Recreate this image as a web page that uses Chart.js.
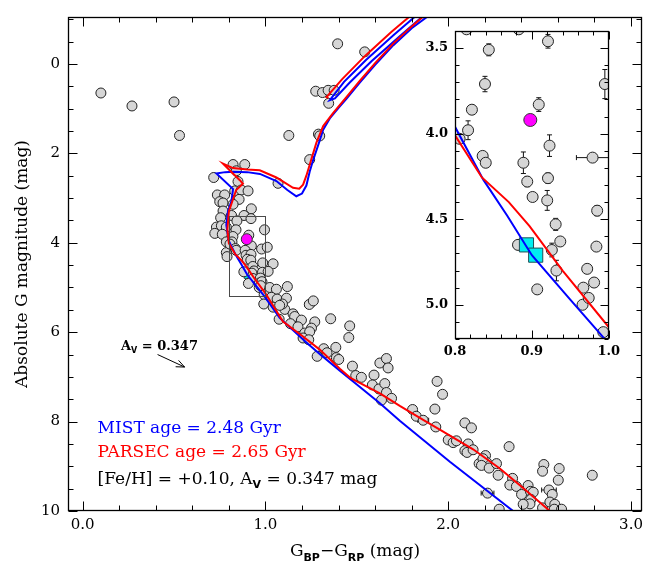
<!DOCTYPE html>
<html>
<head>
<meta charset="utf-8">
<script src="https://cdn.jsdelivr.net/npm/chart.js@4.4.1/dist/chart.umd.min.js"></script>
<style>
  html, body { margin: 0; padding: 0; background: #fff; }
  #wrap { position: relative; width: 657px; height: 564px; }
  #cmd { position: absolute; left: 0; top: 0; }
  #zoom { position: absolute; left: 415px; top: 15px; }
</style>
</head>
<body>
<div id="wrap">
  <canvas id="cmd" width="657" height="564"></canvas>
  <canvas id="zoom" width="210" height="350"></canvas>
</div>
<script>
// Cluster members: Gaia BP-RP colour vs absolute G magnitude
const starColor = [
  0.10, 0.27, 0.50, 0.53,
  1.395, 1.543, 1.275, 1.312, 1.343, 1.376, 1.346, 1.128, 1.290, 1.297, 1.242, 1.069,
  0.717, 0.823, 0.887, 0.841, 0.850, 0.832, 0.868, 0.905, 0.737, 0.777, 0.750, 0.768, 0.856, 0.823,
  0.923, 0.768, 0.755, 0.815, 0.883, 0.732, 0.759, 0.786, 0.723, 0.764, 0.786, 0.786, 0.790,
  0.921, 0.844, 0.839, 0.995, 0.822, 0.909, 0.817, 0.806, 0.923, 0.836, 0.840, 0.889, 0.979,
  0.894, 0.921, 0.901, 0.920, 0.985, 0.931, 0.937, 0.926, 0.984, 0.882, 0.932, 0.972, 0.907,
  0.967, 0.981, 0.966, 0.974, 0.993,
  1.010, 1.042, 1.015, 1.025, 1.024, 1.060, 1.120, 1.033, 1.064, 1.115, 0.991, 1.042, 1.106,
  1.151, 1.240, 1.262, 1.093, 1.078, 1.075, 1.160, 1.197, 1.137, 1.178, 1.357, 1.270, 1.252,
  1.215, 1.242, 1.206, 1.237, 1.461, 1.456, 1.283, 1.319, 1.337, 1.385, 1.388, 1.401, 1.476,
  1.494, 1.525, 1.594, 1.626, 1.662, 1.671, 1.585, 1.621, 1.653, 1.662, 1.690, 1.635, 1.939,
  1.969, 1.805, 1.825, 1.863, 1.927, 1.932, 2.000, 2.027, 2.045, 2.091, 2.127, 2.109, 2.091,
  2.103, 2.136, 2.169, 2.204, 2.210, 2.190, 2.182, 2.224, 2.264, 2.273, 2.333, 2.352, 2.337,
  2.373, 2.401, 2.437, 2.450, 2.465, 2.452, 2.447, 2.516, 2.523, 2.516, 2.607, 2.602, 2.551,
  2.569, 2.556, 2.583, 2.580, 2.620, 2.788, 2.215, 2.279, 2.410
];
const starMag = [
  0.65, 0.94, 0.85, 1.60,
  -0.45, -0.27, 0.61, 0.64, 0.59, 0.59, 0.88, 1.60, 1.57, 1.61, 2.14, 2.67,
  2.54, 2.25, 2.25, 2.39, 2.63, 2.84, 2.82, 2.84, 2.93, 2.93, 3.08, 3.11, 3.03, 3.14,
  3.24, 3.29, 3.44, 3.39, 3.39, 3.65, 3.62, 3.65, 3.79, 3.81, 3.98, 4.22, 4.31,
  3.46, 3.51, 3.71, 3.71, 3.86, 3.83, 3.98, 4.03, 4.07, 4.13, 4.17, 4.17, 4.14,
  4.28, 4.26, 4.37, 4.39, 4.45, 4.53, 4.63, 4.68, 4.66, 4.65, 4.80, 4.79, 4.91,
  4.90, 4.87, 5.00, 4.96, 5.16,
  4.10, 4.47, 4.64, 5.10, 5.00, 5.04, 4.98, 5.22, 5.26, 5.24, 5.37, 5.44, 5.49,
  5.59, 5.38, 5.30, 5.37, 5.40, 5.71, 5.65, 5.73, 5.81, 5.88, 5.70, 5.77, 5.91,
  6.02, 5.99, 6.13, 6.17, 5.86, 6.12, 6.54, 6.37, 6.46, 6.34, 6.57, 6.61, 6.76,
  6.97, 7.01, 6.96, 6.69, 6.59, 6.80, 7.18, 7.27, 7.15, 7.35, 7.48, 7.52, 7.10,
  7.39, 7.73, 7.88, 7.97, 7.72, 8.12, 8.41, 8.47, 8.43, 8.03, 8.14, 8.50, 8.65,
  8.69, 8.63, 8.94, 8.76, 8.91, 8.83, 8.98, 9.04, 8.94, 9.20, 8.56, 9.27, 9.42,
  9.45, 9.63, 9.43, 9.56, 9.58, 9.74, 9.84, 9.93, 8.96, 9.11, 9.05, 9.31, 9.53,
  9.63, 9.80, 9.85, 9.96, 9.96, 9.20, 9.60, 9.96, 9.85
];
// photometric uncertainties (0 = bar hidden by the marker)
const starColorErr = starColor.map(() => 0);
const starMagErr = starColor.map(() => 0);
[[43, 0, 0.040], [44, 0, 0.035], [45, 0, 0.045], [46, 0, 0.085], [47, 0, 0.025], [48, 0, 0.040],
 [49, 0, 0.055], [51, 0, 0.063], [54, 0, 0.063], [55, 0.021, 0], [56, 0, 0.030], [57, 0, 0.030],
 [59, 0, 0.058], [60, 0, 0.030], [61, 0, 0.035], [63, 0, 0.040], [66, 0, 0.060],
 [88, 0.025, 0], [129, 0.030, 0], [152, 0.040, 0], [160, 0, 0.080], [164, 0.040, 0], [171, 0.035, 0]
].forEach(([i, ex, ey]) => { starColorErr[i] = ex; starMagErr[i] = ey; });

// the binary primary and its two companion solutions
const primaryColor = [0.898];
const primaryMag = [3.92];
const companionColor = [0.893, 0.905];
const companionMag = [4.65, 4.71];

// MIST isochrone: main sequence, subgiant and red giant branch, then the clump loop
const mistColor = [2.37, 2.355, 2.009, 1.735, 1.626, 1.50, 1.407, 1.30, 1.224, 1.15, 1.078, 0.993, 0.95,
  0.90, 0.868, 0.837, 0.80, 0.786, 0.795, 0.814, 0.823, 0.732, 0.78, 0.823, 0.90, 0.97, 1.06, 1.12,
  1.169, 1.20, 1.224, 1.242, 1.261, 1.29, 1.316, 1.352, 1.40, 1.443, 1.516, 1.60, 1.70, 1.80, 1.90];
const mistMag = [10.05, 10.0, 8.90, 7.98, 7.59, 7.17, 6.86, 6.50, 6.23, 5.95, 5.68, 5.19, 4.97,
  4.71, 4.48, 4.27, 3.96, 3.60, 3.30, 3.07, 2.80, 2.45, 2.42, 2.41, 2.42, 2.46, 2.62, 2.82,
  2.96, 2.90, 2.72, 2.41, 2.15, 1.80, 1.47, 1.22, 0.98, 0.78, 0.42, 0.02, -0.42, -0.80, -1.10];
const mistLoopColor = [1.83, 1.70, 1.55, 1.43, 1.352, 1.38, 1.46, 1.58, 1.73, 1.87];
const mistLoopMag = [-1.10, -0.64, -0.09, 0.40, 0.81, 0.77, 0.42, -0.06, -0.60, -1.10];

// PARSEC isochrone
const parsecColor = [2.57, 2.556, 2.40, 2.282, 2.136, 1.954, 1.863, 1.735, 1.626, 1.50, 1.461, 1.407,
  1.297, 1.20, 1.096, 1.0, 0.94, 0.897, 0.87, 0.835, 0.80, 0.792, 0.80, 0.823, 0.84, 0.877, 0.86,
  0.80, 0.768, 0.823, 0.90, 0.969, 1.06, 1.151, 1.185, 1.206, 1.224, 1.252, 1.279, 1.316, 1.37,
  1.443, 1.516, 1.60, 1.70, 1.80, 1.88];
const parsecMag = [10.05, 10.0, 9.45, 9.05, 8.62, 8.18, 7.96, 7.65, 7.37, 7.10, 7.01, 6.82,
  6.39, 6.08, 5.76, 5.13, 4.80, 4.54, 4.40, 4.256, 4.01, 3.70, 3.30, 3.02, 2.82, 2.68, 2.60,
  2.36, 2.23, 2.33, 2.36, 2.38, 2.54, 2.77, 2.79, 2.70, 2.50, 2.12, 1.76, 1.39, 1.10,
  0.74, 0.38, -0.02, -0.46, -0.84, -1.12];
const parsecLoopColor = [1.80, 1.69, 1.545, 1.42, 1.334, 1.345];
const parsecLoopMag = [-1.10, -0.72, -0.18, 0.34, 0.74, 0.76];

// fit parameters
const mistAge = 2.48;
const parsecAge = 2.65;
const feH = 0.10;
const extinctionAV = 0.347;
const reddeningStart = [0.41, 6.50];
const reddeningShift = [0.148, 0.28];  // E(BP-RP), A_G for the A_V above

// axes
const xTicks = [0, 1, 2, 3];
const yTicks = [0, 2, 4, 6, 8, 10];
const zoomColorRange = [0.8, 1.0];
const zoomMagRange = [3.4, 5.2];
const zoomXTicks = [0.8, 0.9, 1.0];
const zoomYTicks = [3.5, 4.0, 4.5, 5.0];

const SERIF = '"DejaVu Serif", serif';
Chart.defaults.font.family = SERIF;
Chart.defaults.color = '#000';

const pts = (xs, ys) => xs.map((x, i) => ({ x, y: ys[i] }));

function isochrone(xs, ys, color, order) {
  return { data: pts(xs, ys), showLine: true, borderColor: color, borderWidth: 2,
           pointRadius: 0, tension: 0, order };
}

function buildDatasets(s) {
  return [
    { data: pts(primaryColor, primaryMag), pointRadius: s.primary, backgroundColor: '#ff00ff',
      borderColor: '#333', borderWidth: 1, order: 0 },
    isochrone(parsecColor, parsecMag, '#ff0000', 1),
    isochrone(parsecLoopColor, parsecLoopMag, '#ff0000', 1),
    isochrone(mistColor, mistMag, '#0000ff', 2),
    isochrone(mistLoopColor, mistLoopMag, '#0000ff', 2),
    { data: pts(starColor, starMag), pointRadius: s.star, backgroundColor: '#d6d6d6',
      borderColor: '#222', borderWidth: 1, order: s.starOrder },
    { data: pts(companionColor, companionMag), pointStyle: 'rect', pointRadius: s.companion,
      backgroundColor: '#00eef0', borderColor: '#1f4f55', borderWidth: 1, order: s.companionOrder }
  ];
}

// error bars sit under the markers
const errorBars = {
  id: 'errorBars',
  beforeDatasetsDraw(chart) {
    const { ctx, chartArea: a, scales: { x, y } } = chart;
    ctx.save();
    ctx.beginPath();
    ctx.rect(a.left, a.top, a.width, a.height);
    ctx.clip();
    ctx.strokeStyle = '#111';
    ctx.lineWidth = 1;
    ctx.beginPath();
    starColor.forEach((c, i) => {
      const m = starMag[i], ex = starColorErr[i], ey = starMagErr[i];
      const px = x.getPixelForValue(c), py = y.getPixelForValue(m);
      if (ey) {
        const y0 = y.getPixelForValue(m - ey), y1 = y.getPixelForValue(m + ey);
        ctx.moveTo(px, y0); ctx.lineTo(px, y1);
        ctx.moveTo(px - 2.5, y0); ctx.lineTo(px + 2.5, y0);
        ctx.moveTo(px - 2.5, y1); ctx.lineTo(px + 2.5, y1);
      }
      if (ex) {
        const x0 = x.getPixelForValue(c - ex), x1 = x.getPixelForValue(c + ex);
        ctx.moveTo(x0, py); ctx.lineTo(x1, py);
        ctx.moveTo(x0, py - 2.5); ctx.lineTo(x0, py + 2.5);
        ctx.moveTo(x1, py - 2.5); ctx.lineTo(x1, py + 2.5);
      }
    });
    ctx.stroke();
    ctx.restore();
  }
};

// box frame with inward major/minor ticks on all four sides
const frameTicks = {
  id: 'frameTicks',
  beforeDraw(chart, args, o) {
    if (!o.fill) return;
    const { ctx, chartArea: a } = chart;
    ctx.save();
    ctx.fillStyle = o.fill;
    ctx.fillRect(a.left, a.top, a.width, a.height);
    ctx.restore();
  },
  afterDraw(chart, args, o) {
    const { ctx, chartArea: a, scales: { x, y } } = chart;
    const L = Math.round(a.left) + 0.5, R = Math.round(a.right) - 0.5;
    const T = Math.round(a.top) + 0.5, B = Math.round(a.bottom) - 0.5;
    const each = (scale, minor, major, fn) => {
      const k0 = Math.ceil(scale.min / minor - 1e-6), k1 = Math.floor(scale.max / minor + 1e-6);
      for (let k = k0; k <= k1; k++) {
        const v = k * minor;
        const isMajor = Math.abs(v / major - Math.round(v / major)) < 1e-6;
        fn(Math.round(scale.getPixelForValue(v)) + 0.5, isMajor ? o.major : o.minor);
      }
    };
    ctx.save();
    ctx.strokeStyle = '#000';
    ctx.lineWidth = 1;
    ctx.beginPath();
    each(x, o.xMinor, o.xMajor, (p, len) => {
      ctx.moveTo(p, B); ctx.lineTo(p, B - len);
      ctx.moveTo(p, T); ctx.lineTo(p, T + len);
    });
    each(y, o.yMinor, o.yMajor, (p, len) => {
      ctx.moveTo(L, p); ctx.lineTo(L + len, p);
      ctx.moveTo(R, p); ctx.lineTo(R - len, p);
    });
    ctx.stroke();
    ctx.lineWidth = 1.3;
    ctx.strokeRect(L, T, R - L, B - T);
    ctx.restore();
  }
};

// text made of normal runs and subscript runs
function drawRich(ctx, parts, x, y, size, align, weight) {
  const main = `${weight || ''} ${size}px ${SERIF}`;
  const sub = `bold ${Math.round(size * 0.62)}px "DejaVu Sans", sans-serif`;
  let w = 0;
  parts.forEach(([t, s]) => { ctx.font = s ? sub : main; w += ctx.measureText(t).width; });
  let cx = align === 'center' ? x - w / 2 : x;
  parts.forEach(([t, s]) => {
    ctx.font = s ? sub : main;
    ctx.fillText(t, cx, s ? y + size * 0.28 : y);
    cx += ctx.measureText(t).width;
  });
}

const cmdNotes = {
  id: 'cmdNotes',
  afterDraw(chart) {
    const { ctx, chartArea: a, scales: { x, y } } = chart;
    ctx.save();
    ctx.textBaseline = 'alphabetic';

    // region shown in the zoom panel
    const bx0 = Math.round(x.getPixelForValue(zoomColorRange[0])) + 0.5;
    const bx1 = Math.round(x.getPixelForValue(zoomColorRange[1])) + 0.5;
    const by0 = Math.round(y.getPixelForValue(zoomMagRange[0])) + 0.5;
    const by1 = Math.round(y.getPixelForValue(zoomMagRange[1])) + 0.5;
    ctx.strokeStyle = '#4a4a4a';
    ctx.lineWidth = 1;
    ctx.strokeRect(bx0, by0, bx1 - bx0, by1 - by0);

    // reddening vector
    const sx = x.getPixelForValue(reddeningStart[0]), sy = y.getPixelForValue(reddeningStart[1]);
    const ex = x.getPixelForValue(reddeningStart[0] + reddeningShift[0]);
    const ey = y.getPixelForValue(reddeningStart[1] + reddeningShift[1]);
    const ang = Math.atan2(ey - sy, ex - sx);
    ctx.strokeStyle = '#000';
    ctx.beginPath();
    ctx.moveTo(sx, sy); ctx.lineTo(ex, ey);
    ctx.moveTo(ex - 9 * Math.cos(ang - 0.4), ey - 9 * Math.sin(ang - 0.4));
    ctx.lineTo(ex, ey);
    ctx.lineTo(ex - 9 * Math.cos(ang + 0.4), ey - 9 * Math.sin(ang + 0.4));
    ctx.stroke();
    ctx.fillStyle = '#000';
    drawRich(ctx, [['A', 0], ['V', 1], [' = ' + extinctionAV.toFixed(3), 0]],
      x.getPixelForValue(0.21), y.getPixelForValue(6.39), 13, 'left', 'bold');

    // fit summary
    const tx = x.getPixelForValue(0.082);
    ctx.fillStyle = '#0000ff';
    drawRich(ctx, [[`MIST age = ${mistAge.toFixed(2)} Gyr`, 0]], tx, y.getPixelForValue(8.25), 17);
    ctx.fillStyle = '#ff0000';
    drawRich(ctx, [[`PARSEC age = ${parsecAge.toFixed(2)} Gyr`, 0]], tx, y.getPixelForValue(8.80), 17);
    ctx.fillStyle = '#000';
    drawRich(ctx, [[`[Fe/H] = +${feH.toFixed(2)}, A`, 0], ['V', 1],
      [` = ${extinctionAV.toFixed(3)} mag`, 0]], tx, y.getPixelForValue(9.39), 17);

    // x axis title
    drawRich(ctx, [['G', 0], ['BP', 1], ['\u2212G', 0], ['RP', 1], [' (mag)', 0]],
      (a.left + a.right) / 2, 556, 17, 'center');
    ctx.restore();
  }
};

const tickFont = { family: SERIF, size: 15 };

new Chart(document.getElementById('cmd'), {
  type: 'scatter',
  data: { datasets: buildDatasets({ star: 5, primary: 5.5, companion: 5.5, starOrder: 3, companionOrder: 4 }) },
  options: {
    responsive: false,
    animation: false,
    layout: { padding: { top: 5, right: 15, left: 0, bottom: 0 } },
    plugins: {
      legend: { display: false },
      tooltip: { enabled: false },
      frameTicks: { xMinor: 0.2, xMajor: 1, yMinor: 0.5, yMajor: 2, major: 9, minor: 5 }
    },
    scales: {
      x: {
        type: 'linear', min: -0.08, max: 3.06,
        grid: { display: false, drawTicks: false }, border: { display: false },
        afterBuildTicks: s => { s.ticks = xTicks.map(v => ({ value: v })); },
        ticks: { font: tickFont, padding: 5, maxRotation: 0, autoSkip: false, callback: v => v.toFixed(1) },
        afterFit: s => { s.height = 53; }
      },
      y: {
        type: 'linear', reverse: true, min: -1.05, max: 10,
        grid: { display: false, drawTicks: false }, border: { display: false },
        afterBuildTicks: s => { s.ticks = yTicks.map(v => ({ value: v })); },
        ticks: { font: tickFont, padding: 8, autoSkip: false, callback: v => String(v) },
        title: { display: true, text: 'Absolute G magnitude (mag)', font: { family: SERIF, size: 17 },
                 padding: { top: 12, bottom: 0 } },
        afterFit: s => { s.width = 68; }
      }
    }
  },
  plugins: [errorBars, frameTicks, cmdNotes]
});

const zoomTickFont = { family: SERIF, size: 13, weight: 'bold' };

new Chart(document.getElementById('zoom'), {
  type: 'scatter',
  data: { datasets: buildDatasets({ star: 5.5, primary: 6.5, companion: 10, starOrder: 4, companionOrder: 3 }) },
  options: {
    responsive: false,
    animation: false,
    layout: { padding: { top: 16, right: 15, left: 0, bottom: 0 } },
    plugins: {
      legend: { display: false },
      tooltip: { enabled: false },
      frameTicks: { xMinor: 0.02, xMajor: 0.1, yMinor: 0.1, yMajor: 0.5, major: 8, minor: 4, fill: '#fff' }
    },
    scales: {
      x: {
        type: 'linear', min: zoomColorRange[0], max: zoomColorRange[1],
        grid: { display: false, drawTicks: false }, border: { display: false },
        afterBuildTicks: s => { s.ticks = zoomXTicks.map(v => ({ value: v })); },
        ticks: { font: zoomTickFont, padding: 5, maxRotation: 0, autoSkip: false, callback: v => v.toFixed(1) },
        afterFit: s => { s.height = 26; }
      },
      y: {
        type: 'linear', reverse: true, min: zoomMagRange[0], max: zoomMagRange[1],
        grid: { display: false, drawTicks: false }, border: { display: false },
        afterBuildTicks: s => { s.ticks = zoomYTicks.map(v => ({ value: v })); },
        ticks: { font: zoomTickFont, padding: 7, autoSkip: false, callback: v => v.toFixed(1) },
        afterFit: s => { s.width = 40; }
      }
    }
  },
  plugins: [errorBars, frameTicks]
});
</script>
</body>
</html>
